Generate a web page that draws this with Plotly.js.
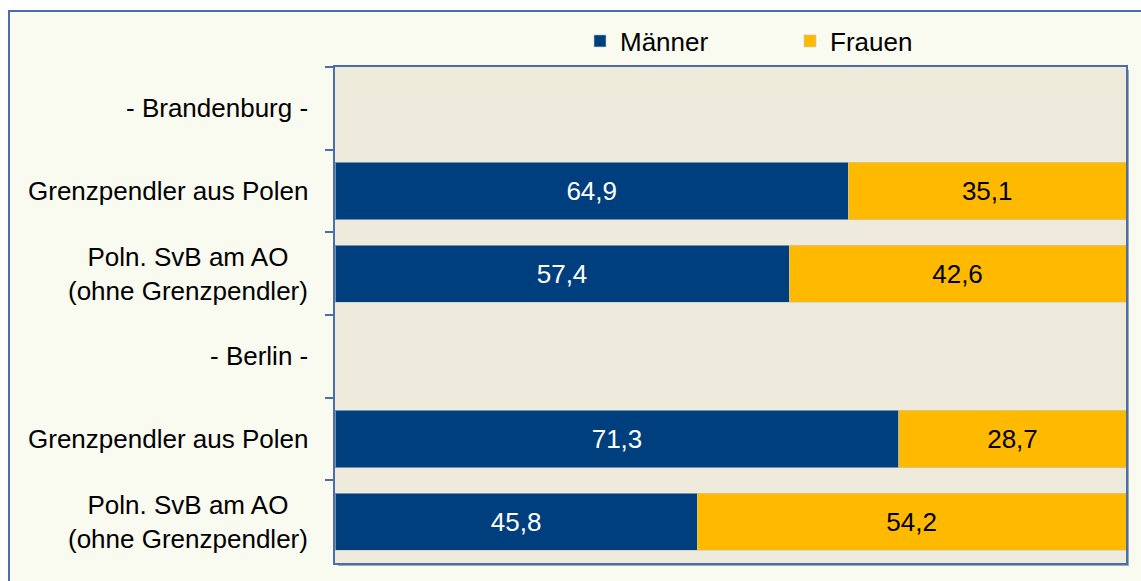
<!DOCTYPE html>
<html>
<head>
<meta charset="utf-8">
<script src="https://cdn.plot.ly/plotly-3.0.1.min.js"></script>
<style>
html,body{margin:0;padding:0;background:#ffffff;overflow:hidden;}
#chart{width:1141px;height:581px;}
</style>
</head>
<body>
<div id="chart"></div>
<script>
// ---- data ----
var categoryIds = ["bb_head", "bb_gp", "bb_svb", "be_head", "be_gp", "be_svb"];
var categoryLabels = [
  "- Brandenburg -",
  "Grenzpendler aus Polen",
  "Poln. SvB am AO<br>(ohne Grenzpendler)",
  "- Berlin -",
  "Grenzpendler aus Polen",
  "Poln. SvB am AO<br>(ohne Grenzpendler)"
];
var seriesNames = ["Männer", "Frauen"];
var maenner = [null, 64.9, 57.4, null, 71.3, 45.8];
var frauen  = [null, 35.1, 42.6, null, 28.7, 54.2];

// ---- layout helpers ----
var W = 1141, H = 581;
var L = 335, R = 1126, T = 67, B = 563;
function px2x(p){ return (p - L) / (R - L); }
function px2y(p){ return (B - p) / (B - T); }

var blue = "#003F7D", yellow = "#FFBA00";
var lineCol = "#4A6EAC";
var fontFam = "Liberation Sans, Arial, sans-serif";

var traces = [
  {
    type: "bar", orientation: "h", name: seriesNames[0],
    y: categoryIds, x: maenner,
    marker: {color: blue, line: {color: "rgba(200,200,200,0.6)", width: 1}},
    texttemplate: "%{x:.1f}", textposition: "inside", insidetextanchor: "middle",
    constraintext: "none",
    textfont: {family: fontFam, size: 26, color: "#ffffff"},
    hoverinfo: "skip", legend: "legend"
  },
  {
    type: "bar", orientation: "h", name: seriesNames[1],
    y: categoryIds, x: frauen,
    marker: {color: yellow, line: {color: "rgba(200,200,200,0.6)", width: 1}},
    texttemplate: "%{x:.1f}", textposition: "inside", insidetextanchor: "middle",
    constraintext: "none",
    textfont: {family: fontFam, size: 26, color: "#000000"},
    hoverinfo: "skip", legend: "legend2"
  }
];

var annotations = categoryIds.map(function(id, i){
  return {
    xref: "paper", yref: "y", x: px2x(310), y: id,
    xanchor: "right", yanchor: "middle", align: "center",
    text: categoryLabels[i], showarrow: false,
    font: {family: fontFam, size: 26, color: "#000000"}
  };
});

var legendCommon = {
  orientation: "h", yanchor: "middle", xanchor: "left",
  font: {family: fontFam, size: 26, color: "#000000"},
  bgcolor: "rgba(0,0,0,0)", borderwidth: 0, itemclick: false, itemdoubleclick: false
};

var layout = {
  width: W, height: H,
  margin: {l: L, r: W - R, t: T, b: H - B, pad: 0},
  paper_bgcolor: "#ffffff",
  plot_bgcolor: "rgba(0,0,0,0)",
  barmode: "stack",
  bargap: 0.31,
  separators: ",.",
  font: {family: fontFam, size: 26, color: "#000000"},
  xaxis: {
    range: [0, 100], showticklabels: false, ticks: "", showgrid: false, zeroline: false,
    showline: true, mirror: true, linecolor: lineCol, linewidth: 2, fixedrange: true
  },
  yaxis: {
    type: "category", categoryorder: "array", categoryarray: categoryIds,
    autorange: "reversed", showticklabels: false, showgrid: false, zeroline: false,
    showline: true, mirror: true, linecolor: lineCol, linewidth: 2,
    ticks: "outside", tickson: "boundaries", ticklen: 8, tickwidth: 2, tickcolor: lineCol,
    fixedrange: true
  },
  legend: Object.assign({}, legendCommon, {x: px2x(580), y: px2y(41)}),
  legend2: Object.assign({}, legendCommon, {x: px2x(790), y: px2y(41)}),
  annotations: annotations,
  shapes: [
    // outer chart frame
    {type: "rect", xref: "paper", yref: "paper", layer: "below",
     x0: px2x(9), x1: px2x(1170), y0: px2y(11), y1: px2y(610),
     fillcolor: "#F9FAF0", line: {color: lineCol, width: 2}},
    // plot area shadow
    {type: "rect", xref: "paper", yref: "paper", layer: "below",
     x0: px2x(L + 3), x1: px2x(R + 3), y0: px2y(B + 3), y1: px2y(T + 3),
     fillcolor: "#A8A8A8", line: {width: 0}},
    // plot area background
    {type: "rect", xref: "paper", yref: "paper", layer: "below",
     x0: 0, x1: 1, y0: 0, y1: 1,
     fillcolor: "#EEEBDD", line: {width: 0}}
  ],
  showlegend: true
};

Plotly.newPlot("chart", traces, layout, {displayModeBar: false, staticPlot: true});
</script>
</body>
</html>
